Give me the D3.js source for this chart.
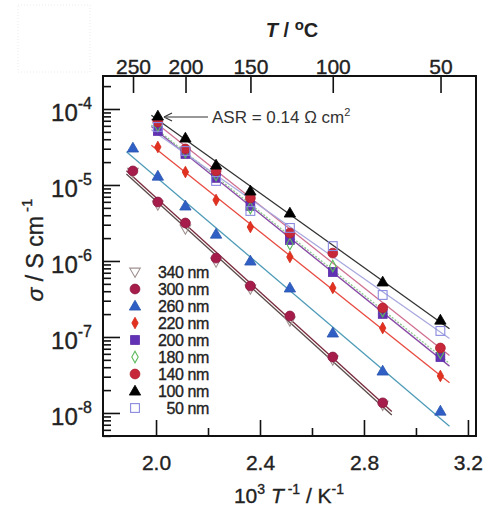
<!DOCTYPE html>
<html><head><meta charset="utf-8">
<script src="https://cdn.jsdelivr.net/npm/d3@7"></script>
<style>body{margin:0;background:#fff} svg{display:block;font-family:"Liberation Sans",Arial,sans-serif}</style>
</head><body><svg id="c" width="489" height="506"></svg>
<script>
// ---- data ----
const invT = [1.911, 2.007, 2.113, 2.231, 2.363, 2.515, 2.680, 2.872, 3.094]; // 10^3/T (K^-1)
const tempTicksC = [250, 200, 150, 100, 50];
const xTicks = [2.0, 2.4, 2.8, 3.2];
const xMinorTicks = [2.2, 2.6, 3.0];
const yTickExps = [-4, -5, -6, -7, -8];
const seriesNames = ["340 nm", "300 nm", "260 nm", "220 nm", "200 nm", "180 nm", "140 nm", "100 nm", "50 nm"];
const s340 = [1.48e-5, 5.46e-6, 2.64e-6, 9.70e-7, 4.28e-7, 1.63e-7, 4.98e-8, 1.27e-8, null];
const s300 = [1.53e-5, 5.97e-6, 3.16e-6, 1.09e-6, 4.69e-7, 1.89e-7, 5.45e-8, 1.36e-8, null];
const s260 = [3.07e-5, 1.31e-5, 5.30e-6, 2.26e-6, 1.00e-6, 4.42e-7, 1.13e-7, 3.57e-8, 1.06e-8];
const s220 = [null, 3.16e-5, 1.48e-5, 6.35e-6, 2.80e-6, 1.13e-6, 4.42e-7, 1.31e-7, 3.07e-8];
const s200 = [null, 5.14e-5, 2.56e-5, 1.24e-5, 5.30e-6, 1.89e-6, 7.16e-7, 2.01e-7, 5.45e-8];
const s180 = [null, 5.97e-5, 2.72e-5, 1.35e-5, 4.98e-6, 1.67e-6, 8.59e-7, 2.20e-7, 6.15e-8];
const s140 = [null, 6.74e-5, 2.98e-5, 1.53e-5, 6.75e-6, 2.33e-6, 1.27e-6, 2.41e-7, 7.16e-8];
const s100 = [null, 8.09e-5, 4.15e-5, 1.83e-5, 8.34e-6, 4.28e-6, null, 5.30e-7, 1.67e-7];
const s50  = [null, 5.80e-5, 2.80e-5, 1.13e-5, 4.55e-6, 2.72e-6, 1.57e-6, 3.57e-7, 1.20e-7];
const annotationText = "ASR = 0.14 Ω cm";

// ---- styles ----
const styles = [
  {shape:"tdown", fill:"none", stroke:"#a09090", line:"#5c4a4a"},
  {shape:"circle", fill:"#a61d4b", stroke:"#8a1840", line:"#7a2a3c"},
  {shape:"tup", fill:"#2f5fc4", stroke:"#2a55b0", line:"#4f9cb8"},
  {shape:"diamond", fill:"#e2321f", stroke:"#d02a1a", line:"#e84a40"},
  {shape:"square", fill:"#6232b4", stroke:"#5a2aa8", line:"#8a4aa8"},
  {shape:"odiamond", fill:"none", stroke:"#5cba5c", line:"#90c890", dash:"2,1.5"},
  {shape:"circle", fill:"#c6283a", stroke:"#b02030", line:"#d07090"},
  {shape:"tup", fill:"#000", stroke:"#000", line:"#333"},
  {shape:"square", fill:"none", stroke:"#8a8ae0", line:"#a8a8e0"}
];
const allSeries = [s340, s300, s260, s220, s200, s180, s140, s100, s50];

const svg = d3.select("#c");
const m = {l:103, r:476, t:76, b:436};
const x = d3.scaleLinear().domain([1.796, 3.231]).range([m.l, m.r]);
const y = d3.scaleLog().domain([Math.pow(10,-8.303), Math.pow(10,-3.566)]).range([m.b, m.t]);
const ink = "#222";
const boldish = sel => sel.attr("stroke", ink).attr("stroke-width", 0.35);

// faint box top-left
svg.append("rect").attr("x",18).attr("y",5).attr("width",72).attr("height",67)
  .attr("fill","none").attr("stroke","#ececec").attr("stroke-dasharray","1,2");

// ---- axes ticks ----
const tickStyle = g => { g.select(".domain").remove(); g.selectAll("line").attr("stroke","#111").attr("stroke-width",1.6); };
svg.append("g").attr("transform",`translate(0,${m.b})`)
  .call(d3.axisBottom(x).tickValues(xTicks).tickSize(-16).tickPadding(19).tickFormat(d3.format(".1f")))
  .call(tickStyle)
  .call(g=>g.selectAll("text").attr("font-size",21).attr("fill",ink).attr("font-family","Liberation Sans, Arial").call(boldish));
svg.append("g").attr("transform",`translate(0,${m.b})`)
  .call(d3.axisBottom(x).tickValues(xMinorTicks).tickSize(-8).tickFormat(""))
  .call(tickStyle);
const tempX = tempTicksC.map(t => 1000/(t+273.15));
svg.append("g").attr("transform",`translate(0,${m.t})`)
  .call(d3.axisTop(x).tickValues(tempX).tickSize(-17).tickPadding(2).tickFormat((d,i)=>tempTicksC[i]))
  .call(tickStyle)
  .call(g=>g.selectAll("text").attr("font-size",21).attr("fill",ink).attr("font-family","Liberation Sans, Arial").call(boldish));
const yMajors = yTickExps.map(e=>Math.pow(10,e));
const yMinors = [];
for (let e=-9; e<=-3; e++) for (let k=2; k<=9; k++) { const v=k*Math.pow(10,e); if (v>y.domain()[0] && v<y.domain()[1]) yMinors.push(v); }
svg.append("g").attr("transform",`translate(${m.l},0)`)
  .call(d3.axisLeft(y).tickValues(yMajors).tickSize(-17).tickFormat(""))
  .call(tickStyle);
svg.append("g").attr("transform",`translate(${m.l},0)`)
  .call(d3.axisLeft(y).tickValues(yMinors).tickSize(-8).tickFormat(""))
  .call(tickStyle);
// y labels with superscripts
yTickExps.forEach(e => {
  const yy = y(Math.pow(10,e));
  const t = svg.append("text").attr("x",92).attr("y",yy+12).attr("text-anchor","end")
    .attr("font-size",24).attr("fill",ink).call(boldish);
  t.append("tspan").text("10");
  t.append("tspan").attr("dy",-12).attr("font-size",16).text("-" + Math.abs(e));
});

// frame
svg.append("rect").attr("x",m.l).attr("y",m.t).attr("width",m.r-m.l).attr("height",m.b-m.t)
  .attr("fill","none").attr("stroke","#111").attr("stroke-width",2);

// ---- fit lines ----
const line = d3.line().x(d=>x(d[0])).y(d=>y(d[1]));
allSeries.forEach((s,i) => {
  const pts = invT.map((v,j)=>[v,s[j]]).filter(d=>d[1]!=null);
  const n = pts.length;
  const mx = d3.mean(pts,d=>d[0]), my = d3.mean(pts,d=>Math.log10(d[1]));
  const b = d3.sum(pts,d=>(d[0]-mx)*(Math.log10(d[1])-my)) / d3.sum(pts,d=>(d[0]-mx)**2);
  const a = my - b*mx;
  const x0 = pts[0][0]-0.025, x1 = pts[n-1][0]+0.035;
  svg.append("path").datum([[x0, Math.pow(10,a+b*x0)],[x1, Math.pow(10,a+b*x1)]])
    .attr("d",line).attr("fill","none").attr("stroke",styles[i].line).attr("stroke-width",1.3)
    .attr("stroke-dasharray",styles[i].dash||null);
});

// ---- markers ----
function drawMarker(g, st, cx, cy) {
  let p;
  if (st.shape==="circle") p = g.append("circle").attr("cx",cx).attr("cy",cy).attr("r",4.9);
  else if (st.shape==="square") p = g.append("rect").attr("x",cx-4.4).attr("y",cy-4.4).attr("width",8.8).attr("height",8.8);
  else if (st.shape==="tup") p = g.append("path").attr("d",d3.symbol(d3.symbolTriangle,56)()).attr("transform",`translate(${cx},${cy+0.8})`);
  else if (st.shape==="tdown") p = g.append("path").attr("d",d3.symbol(d3.symbolTriangle,48)()).attr("transform",`translate(${cx},${cy-0.8}) rotate(180)`);
  else p = g.append("path").attr("d",`M${cx},${cy-5.8}L${cx+3.2},${cy}L${cx},${cy+5.8}L${cx-3.2},${cy}Z`);
  p.attr("fill",st.fill).attr("stroke",st.stroke).attr("stroke-width",st.fill==="none"?1.1:0.8);
}
const mg = svg.append("g");
allSeries.forEach((s,i) => {
  invT.forEach((v,j) => { if (s[j]!=null) drawMarker(mg, styles[i], x(v), y(s[j])); });
});

// ---- legend ----
const lg = svg.append("g");
seriesNames.forEach((name,i) => {
  const yy = 272 + i*17.0;
  drawMarker(lg, styles[i], 135, yy);
  lg.append("text").attr("x",209).attr("y",yy).attr("dy","0.36em").attr("text-anchor","end")
    .attr("font-size",16).attr("letter-spacing",-0.4).attr("fill",ink).text(name).call(boldish);
});

// ---- annotation ----
svg.append("line").attr("x1",208).attr("y1",117).attr("x2",166).attr("y2",117).attr("stroke","#333").attr("stroke-width",1.2);
svg.append("path").attr("d","M164,117 L172,113 M164,117 L172,121").attr("stroke","#333").attr("stroke-width",1.2).attr("fill","none");
const at = svg.append("text").attr("x",212).attr("y",123).attr("font-size",17).attr("fill","#333");
at.append("tspan").text(annotationText);
at.append("tspan").attr("dy",-7).attr("font-size",11).text("2");

// ---- titles ----
const tt = svg.append("text").attr("x",292).attr("y",37).attr("text-anchor","middle").attr("font-size",20).attr("font-weight","bold").attr("fill",ink);
tt.append("tspan").attr("font-style","italic").text("T");
tt.append("tspan").text(" / ");
tt.append("tspan").attr("dy",-7).attr("font-size",15).text("o");
tt.append("tspan").attr("dy",7).text("C");

const xt = svg.append("text").attr("x",289).attr("y",503).attr("text-anchor","middle").attr("font-size",21).attr("fill",ink).call(boldish);
xt.append("tspan").text("10");
xt.append("tspan").attr("dy",-9).attr("font-size",14).text("3");
xt.append("tspan").attr("dy",9).text(" ");
xt.append("tspan").attr("font-style","italic").text("T");
xt.append("tspan").attr("dy",-9).attr("font-size",14).text(" -1");
xt.append("tspan").attr("dy",9).text(" / K");
xt.append("tspan").attr("dy",-9).attr("font-size",14).text("-1");

const yt = svg.append("text").attr("transform","translate(43,250) rotate(-90)").attr("text-anchor","middle").attr("font-size",23).attr("fill",ink).call(boldish);
yt.append("tspan").attr("font-style","italic").text("σ");
yt.append("tspan").text(" / S cm");
yt.append("tspan").attr("dy",-11).attr("font-size",15).text(" -1");
</script></body></html>
